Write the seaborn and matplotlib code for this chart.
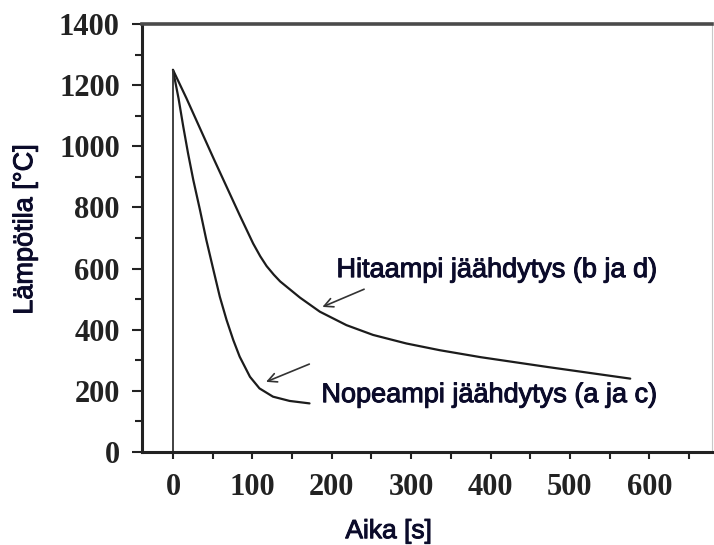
import matplotlib
matplotlib.use("Agg")
import matplotlib.pyplot as plt
import matplotlib.patheffects as pe
from matplotlib.ticker import MultipleLocator
import pandas as pd
import seaborn as sns

# ---- data ----
slow_time = [0, 17, 34, 51, 67.5, 84, 101, 110, 118, 127, 135, 160, 185, 218.5, 252, 294, 336, 388, 472, 576]
slow_temp = [1250, 1157, 1059, 961, 868, 775, 682, 640, 608, 580, 558, 505, 459, 415, 383, 355, 333, 310, 278, 240]

fast_time = [0, 7, 13, 19, 25.6, 34, 42, 51, 59, 67.5, 76, 84, 97, 109, 126, 147, 172]
fast_temp = [1250, 1157, 1064, 977, 890, 792, 694, 595, 508, 432, 366, 312, 246, 208, 181, 167, 159]

start_time = 0
start_temp = 1250

x_ticks = [0, 100, 200, 300, 400, 500, 600]
y_ticks = [0, 200, 400, 600, 800, 1000, 1200, 1400]

slow_label = "Hitaampi jäähdytys (b ja d)"
fast_label = "Nopeampi jäähdytys (a ja c)"
slow_text_pos = (206, 595)
fast_text_pos = (187, 186)
slow_arrow = ((244, 536), (185, 471))   # (tail, head)
fast_arrow = ((175, 291), (114, 226))

x_title = "Aika [s]"
y_title = "Lämpötila [°C]"

# ---- styling ----
sns.set_style("ticks")
plt.rcParams["font.family"] = ["Liberation Sans", "DejaVu Sans"]

fig = plt.figure(figsize=(7.14, 5.45), dpi=100)
ax = fig.add_axes([142 / 714, 1 - 452 / 545, 570 / 714, 428 / 545])

line_color = "#1c1c1c"
slow_df = pd.DataFrame({"t": slow_time, "T": slow_temp})
fast_df = pd.DataFrame({"t": fast_time, "T": fast_temp})
sns.lineplot(data=slow_df, x="t", y="T", sort=False, estimator=None,
             color=line_color, lw=1.6, ax=ax)
sns.lineplot(data=fast_df, x="t", y="T", sort=False, estimator=None,
             color=line_color, lw=1.6, ax=ax)
ax.vlines(start_time, 0, start_temp, color="#333333", lw=1.3)

ax.set_xlim(-39, 679)
ax.set_ylim(0, 1400)
ax.set_xticks(x_ticks)
ax.set_yticks(y_ticks)
ax.xaxis.set_minor_locator(MultipleLocator(50))
ax.yaxis.set_minor_locator(MultipleLocator(100))

tick_font = dict(family=["Liberation Serif", "DejaVu Serif"], weight="bold", size=22)
ax.set_xticklabels([str(v) for v in x_ticks], fontdict=tick_font, color="#222222")
ax.set_yticklabels([str(v) for v in y_ticks], fontdict=tick_font, color="#222222")
ax.tick_params(axis="both", which="both", direction="out", length=5, width=1.5, color="#222222")
ax.tick_params(axis="y", which="major", pad=9, length=7)
ax.tick_params(axis="x", which="major", pad=10)

for side in ["left", "bottom"]:
    ax.spines[side].set_linewidth(2.2)
    ax.spines[side].set_color("#222222")
ax.spines["top"].set_linewidth(2.6)
ax.spines["top"].set_color("#4a4a4a")
ax.spines["right"].set_linewidth(0.8)
ax.spines["right"].set_color("#c8c8c8")

text_color = "#0b0b2a"
heavy = [pe.withStroke(linewidth=0.7, foreground=text_color)]
xl = ax.set_xlabel(x_title, fontsize=19, color=text_color, ha="center", va="center")
xl.set_path_effects(heavy)
ax.xaxis.set_label_coords(0.433, -0.185)
yl = ax.set_ylabel(y_title, fontsize=19.5, color=text_color, ha="center", va="center")
yl.set_path_effects(heavy)
ax.yaxis.set_label_coords(-0.205, 0.52)

ax.text(*slow_text_pos, slow_label, fontsize=19.5, color=text_color, ha="left", va="center",
        path_effects=heavy)
ax.text(*fast_text_pos, fast_label, fontsize=19.5, color=text_color, ha="left", va="center",
        path_effects=heavy)
for tail, head in [slow_arrow, fast_arrow]:
    ax.annotate("", xy=head, xytext=tail,
                arrowprops=dict(arrowstyle="->", color="#333333", lw=1.2, mutation_scale=16))

fig.savefig("out.png", dpi=100)
